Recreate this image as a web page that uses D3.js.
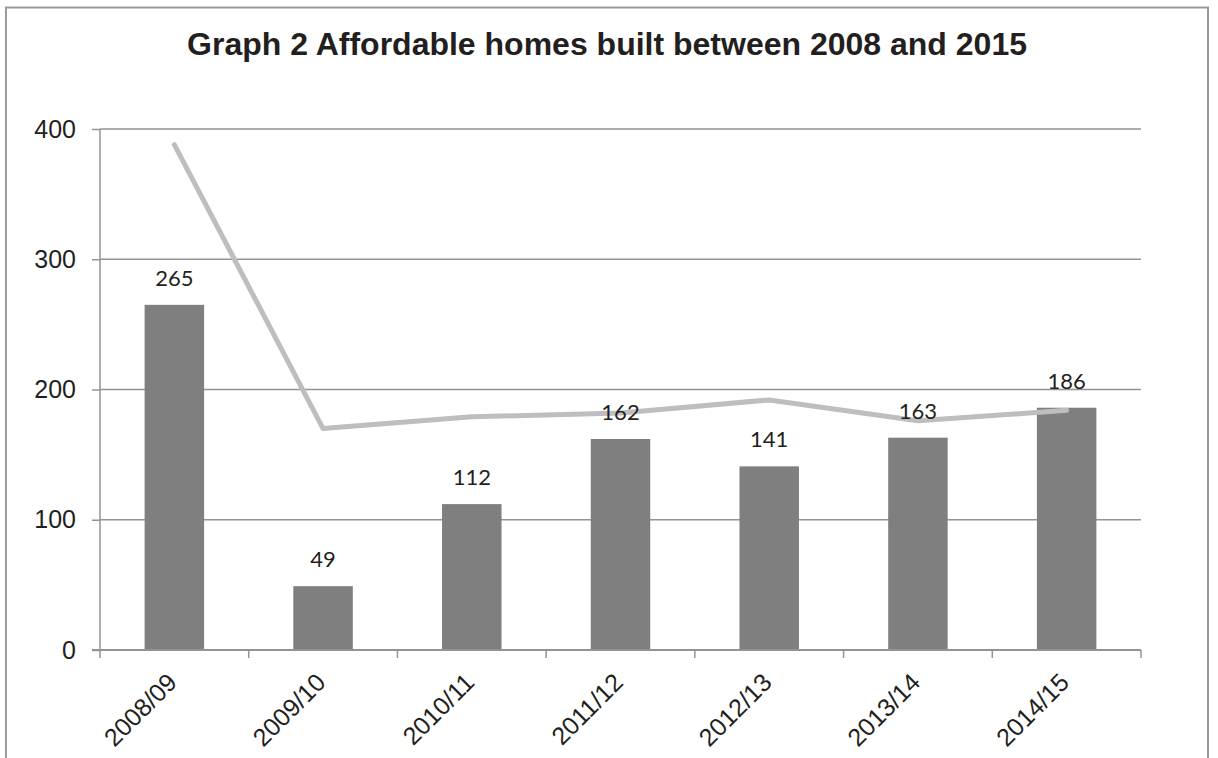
<!DOCTYPE html>
<html>
<head>
<meta charset="utf-8">
<script src="https://cdn.jsdelivr.net/npm/d3@7"></script>
<style>
  body { margin: 0; background: #fff; }
  svg { display: block; }
</style>
</head>
<body>
<svg id="mainsvg" width="1218" height="758"></svg>
<script>
// chart data
const years = ['2008/09', '2009/10', '2010/11', '2011/12', '2012/13', '2013/14', '2014/15'];
const homesBuilt = [265, 49, 112, 162, 141, 163, 186];
const lineValues = [388, 170, 179, 182, 192, 176, 184];
const yTicks = [0, 100, 200, 300, 400];
const titleText = 'Graph 2 Affordable homes built between 2008 and 2015';

const svg = d3.select('#mainsvg');
const width = +svg.attr('width');
const height = +svg.attr('height');
const margin = { top: 129, right: 77, bottom: 108, left: 100 };
const innerWidth = width - margin.left - margin.right;
const innerHeight = height - margin.top - margin.bottom;

// outer frame (bottom edge is outside the picture)
svg.append('path')
    .attr('d', `M6,${height}V7.5H1208V${height}`)
    .attr('fill', 'none')
    .attr('stroke', '#9b9b9d')
    .attr('stroke-width', 2);

svg.append('text')
    .attr('x', 607)
    .attr('y', 55)
    .attr('text-anchor', 'middle')
    .attr('font-family', 'Liberation Sans, Arial, sans-serif')
    .attr('font-weight', 'bold')
    .attr('font-size', '32px')
    .attr('fill', '#231f20')
    .text(titleText);

const g = svg.append('g')
    .attr('transform', `translate(${margin.left}, ${margin.top})`);

const xScale = d3.scaleBand()
    .domain(years)
    .range([0, innerWidth])
    .paddingInner(0.6)
    .paddingOuter(0.3);

const yScale = d3.scaleLinear()
    .domain([0, 400])
    .range([innerHeight, 0]);

const cx = d => xScale(d) + xScale.bandwidth() / 2;
const step = innerWidth / years.length;

// gridlines
g.selectAll('.grid').data(yTicks.filter(d => d > 0)).join('line')
    .attr('class', 'grid')
    .attr('x1', 0).attr('x2', innerWidth)
    .attr('y1', d => yScale(d)).attr('y2', d => yScale(d))
    .attr('stroke', '#939395')
    .attr('stroke-width', 1.5);

// y axis
const yAxis = d3.axisLeft(yScale).tickValues(yTicks).tickSize(8).tickPadding(16);
const yAxisGroup = g.append('g').call(yAxis);
yAxisGroup.selectAll('path, line').attr('stroke', '#939395').attr('stroke-width', 1.5);
yAxisGroup.select('.domain').attr('d', `M0,0V${innerHeight}`);
yAxisGroup.selectAll('text')
    .attr('font-family', 'Liberation Sans, Arial, sans-serif')
    .attr('font-size', '25px')
    .attr('fill', '#231f20');

// bars
g.selectAll('.bar').data(years).join('rect')
    .attr('class', 'bar')
    .attr('x', d => xScale(d))
    .attr('y', (d, i) => yScale(homesBuilt[i]))
    .attr('width', xScale.bandwidth())
    .attr('height', (d, i) => innerHeight - yScale(homesBuilt[i]))
    .attr('fill', '#7f7f80');

// x axis with ticks on the category boundaries
g.append('line')
    .attr('x1', -8).attr('x2', innerWidth)
    .attr('y1', innerHeight).attr('y2', innerHeight)
    .attr('stroke', '#939395').attr('stroke-width', 2);
g.selectAll('.xtick').data(d3.range(years.length + 1)).join('line')
    .attr('class', 'xtick')
    .attr('x1', i => i * step).attr('x2', i => i * step)
    .attr('y1', innerHeight).attr('y2', innerHeight + 8)
    .attr('stroke', '#939395').attr('stroke-width', 1.5);
g.selectAll('.xlabel').data(years).join('text')
    .attr('class', 'xlabel')
    .attr('transform', d => `translate(${cx(d) + 4}, ${innerHeight + 34}) rotate(-45)`)
    .attr('text-anchor', 'end')
    .attr('font-family', 'Liberation Sans, Arial, sans-serif')
    .attr('font-size', '25px')
    .attr('fill', '#231f20')
    .text(d => d);

// grey line
const line = d3.line()
    .x((d, i) => cx(years[i]))
    .y(d => yScale(d));
g.append('path').datum(lineValues)
    .attr('d', line)
    .attr('fill', 'none')
    .attr('stroke', '#bebec0')
    .attr('stroke-width', 5)
    .attr('stroke-linecap', 'round')
    .attr('stroke-linejoin', 'round');

// value labels
g.selectAll('.vlabel').data(years).join('text')
    .attr('class', 'vlabel')
    .attr('x', d => cx(d))
    .attr('y', (d, i) => yScale(homesBuilt[i]) - 19)
    .attr('text-anchor', 'middle')
    .attr('font-family', 'Lato, sans-serif')
    .attr('font-size', '22px')
    .attr('fill', '#231f20')
    .text((d, i) => homesBuilt[i]);
</script>
</body>
</html>
